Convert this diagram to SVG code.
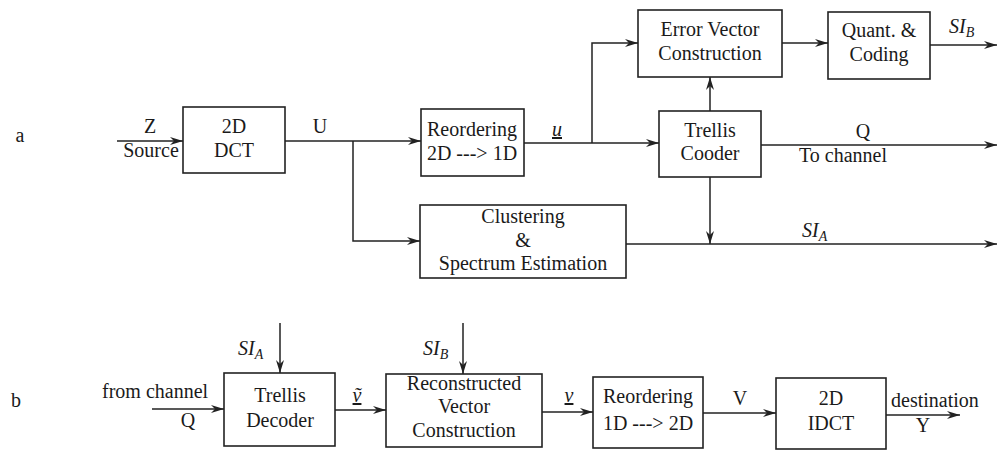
<svg xmlns="http://www.w3.org/2000/svg" width="998" height="452" viewBox="0 0 998 452">
  <style>
    text { font-family: "Liberation Serif", "Noto Serif", "DejaVu Serif", "FreeSerif", Tinos, Times, serif; font-size: 20px; fill: #1a1a1a; }
    .c { text-anchor: middle; }
    .it { font-style: italic; }
    .sub { font-size: 14px; font-style: italic; }
    .box { fill: #ffffff; stroke: #222; stroke-width: 1.6; }
    .wire { fill: none; stroke: #222; stroke-width: 1.5; }
    .arr { marker-end: url(#head); }
  </style>
  <defs>
    <marker id="head" markerUnits="userSpaceOnUse" markerWidth="14" markerHeight="10" refX="13" refY="5" orient="auto">
      <path d="M0,1 L13,5 L0,9 L4,5 z" fill="#222"/>
    </marker>
  </defs>

  <!-- row labels -->
  <text x="20" y="142" class="c">a</text>
  <text x="16" y="407" class="c">b</text>

  <!-- encoder (a) -->
  <g id="dct">
    <rect class="box" x="183" y="107" width="102" height="66"/>
    <text x="234" y="133" class="c">2D</text>
    <text x="234" y="157" class="c">DCT</text>
  </g>
  <g id="reorder-a">
    <rect class="box" x="421" y="109" width="103" height="67"/>
    <text x="472" y="136" class="c">Reordering</text>
    <text x="472" y="160" class="c">2D ---&gt; 1D</text>
  </g>
  <g id="error-vector">
    <rect class="box" x="638" y="10" width="144" height="67"/>
    <text x="710" y="36" class="c">Error Vector</text>
    <text x="710" y="60" class="c">Construction</text>
  </g>
  <g id="quant">
    <rect class="box" x="828" y="12" width="102" height="67"/>
    <text x="879" y="37" class="c">Quant. &amp;</text>
    <text x="879" y="61" class="c">Coding</text>
  </g>
  <g id="trellis-coder">
    <rect class="box" x="659" y="111" width="102" height="66"/>
    <text x="710" y="137" class="c">Trellis</text>
    <text x="710" y="160" class="c">Cooder</text>
  </g>
  <g id="clustering">
    <rect class="box" x="420" y="205" width="206" height="73"/>
    <text x="523" y="223" class="c">Clustering</text>
    <text x="523" y="247" class="c">&amp;</text>
    <text x="523" y="270" class="c">Spectrum Estimation</text>
  </g>

  <!-- decoder (b) -->
  <g id="trellis-decoder">
    <rect class="box" x="224" y="373" width="111" height="73"/>
    <text x="280" y="402" class="c">Trellis</text>
    <text x="280" y="427" class="c">Decoder</text>
  </g>
  <g id="reconstruct">
    <rect class="box" x="386" y="374" width="156" height="73"/>
    <text x="464" y="390" class="c">Reconstructed</text>
    <text x="464" y="413" class="c">Vector</text>
    <text x="464" y="437" class="c">Construction</text>
  </g>
  <g id="reorder-b">
    <rect class="box" x="593" y="377" width="110" height="71"/>
    <text x="648" y="403" class="c">Reordering</text>
    <text x="648" y="430" class="c">1D ---&gt; 2D</text>
  </g>
  <g id="idct">
    <rect class="box" x="776" y="378" width="110" height="71"/>
    <text x="831" y="405" class="c">2D</text>
    <text x="831" y="430" class="c">IDCT</text>
  </g>

  <g id="connectors">
    <!-- encoder -->
    <path class="wire arr" d="M117,141 H183"/>
    <path class="wire arr" d="M285,141 H421"/>
    <path class="wire arr" d="M353,141 V241 H420"/>
    <path class="wire arr" d="M524,143 H659"/>
    <path class="wire arr" d="M592,143 V43 H638"/>
    <path class="wire arr" d="M782,43 H828"/>
    <path class="wire arr" d="M930,45 H997"/>
    <path class="wire arr" d="M710,111 V77"/>
    <path class="wire arr" d="M761,145 H997"/>
    <path class="wire arr" d="M710,177 V244"/>
    <path class="wire arr" d="M626,244 H997"/>
    <!-- decoder -->
    <path class="wire arr" d="M152,409 H224"/>
    <path class="wire arr" d="M280,323 V373"/>
    <path class="wire arr" d="M335,410 H386"/>
    <path class="wire arr" d="M463,323 V374"/>
    <path class="wire arr" d="M542,412 H593"/>
    <path class="wire arr" d="M703,413 H776"/>
    <path class="wire arr" d="M886,415 H960"/>
  </g>

  <g id="labels">
    <text x="150" y="133" class="c">Z</text>
    <text x="151" y="157" class="c">Source</text>
    <text x="320" y="133" class="c">U</text>
    <text x="557" y="136" class="c it" text-decoration="underline">u</text>
    <text x="949" y="33" class="it">SI<tspan class="sub" dy="4">B</tspan></text>
    <text x="863" y="138" class="c">Q</text>
    <text x="843" y="162" class="c">To channel</text>
    <text x="802" y="237" class="it">SI<tspan class="sub" dy="4">A</tspan></text>

    <text x="238" y="355" class="it">SI<tspan class="sub" dy="4">A</tspan></text>
    <text x="423" y="355" class="it">SI<tspan class="sub" dy="4">B</tspan></text>
    <text x="102" y="398">from channel</text>
    <text x="188" y="427" class="c">Q</text>
    <text x="357" y="402" class="c it" text-decoration="underline">ṽ</text>
    <text x="569" y="402" class="c it" text-decoration="underline">v</text>
    <text x="740" y="405" class="c">V</text>
    <text x="891" y="407">destination</text>
    <text x="923" y="432" class="c">Y</text>
  </g>
</svg>
